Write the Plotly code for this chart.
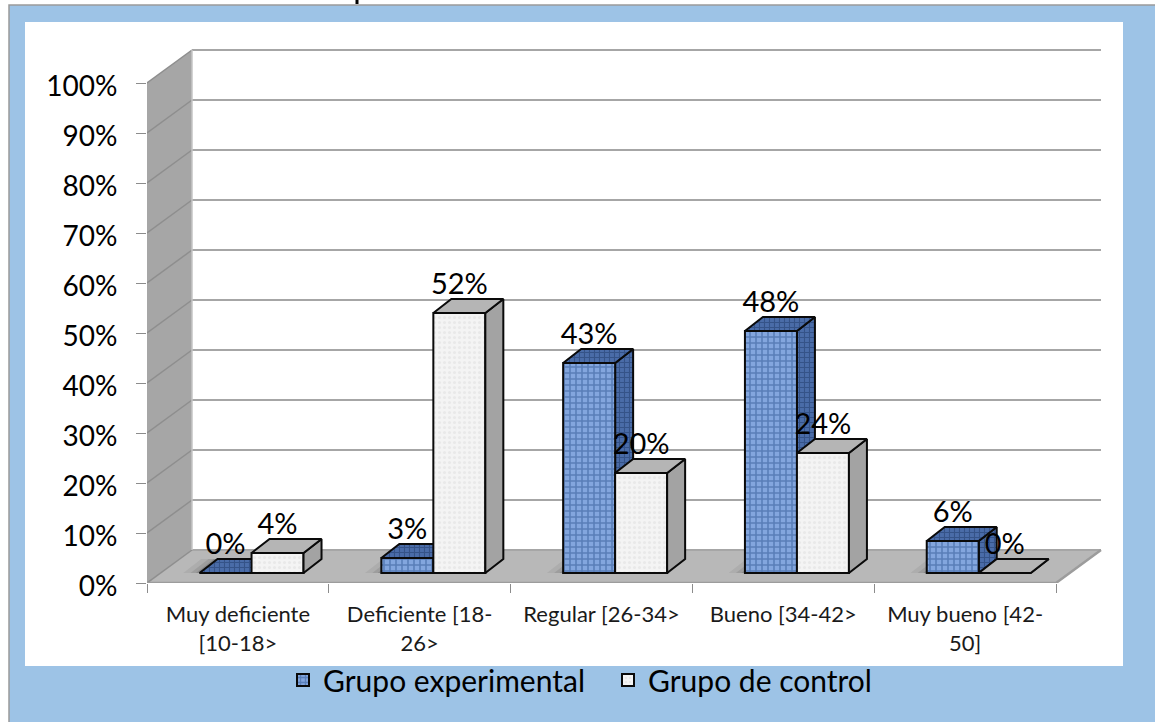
import plotly.graph_objects as go

W, H = 1155, 722

categories = ["Muy deficiente<br>[10-18>", "Deficiente [18-<br>26>", "Regular [26-34>",
              "Bueno [34-42>", "Muy bueno [42-<br>50]"]
experimental = [0, 3, 42, 48.4, 6.4]
control = [4, 52, 20, 24, 0]
experimental_labels = ["0%", "3%", "43%", "48%", "6%"]
control_labels = ["4%", "52%", "20%", "24%", "0%"]
y_ticks = [0, 10, 20, 30, 40, 50, 60, 70, 80, 90, 100]
y_tick_labels = ["0%", "10%", "20%", "30%", "40%", "50%", "60%", "70%", "80%", "90%", "100%"]

# 3D look, in axis units
WALL_DX, WALL_DY = 0.2475, 6.6
BAR_DX, BAR_DY = 0.099, 2.8
BAR_W = 0.286
BAR_SHIFT = 0.075
FLOOR = 2
LABEL_GAP = 5.3

FONT = "Lato"
BLUE_PAGE = "#9DC3E6"
WALL = "#A6A6A6"
FLOOR_COLOR = "#B8B8B8"
GRID = "#A6A6A6"


def px(x):
    return x / W


def py(y):
    return 1 - y / H


def poly(x, y, color, axes="", line=None, pattern=None):
    return go.Scatter(
        x=x, y=y, mode="lines", fill="toself", fillcolor=color,
        fillpattern=pattern,
        line=line or dict(width=0, color=color),
        xaxis="x" + axes, yaxis="y" + axes,
        hoverinfo="skip", showlegend=False,
    )


def faces(values, centers):
    side_x, side_y, top_x, top_y = [], [], [], []
    for c, v in zip(centers, values):
        x0, x1, t = c, c + BAR_W, v + FLOOR
        side_x += [x1, x1, x1 + BAR_DX, x1 + BAR_DX, x1, None]
        side_y += [FLOOR, t, t + BAR_DY, FLOOR + BAR_DY, FLOOR, None]
        top_x += [x0, x1, x1 + BAR_DX, x0 + BAR_DX, x0, None]
        top_y += [t, t, t + BAR_DY, t + BAR_DY, t, None]
    return side_x, side_y, top_x, top_y


n = len(categories)
mid = [i + 0.5 + BAR_SHIFT for i in range(n)]
exp_left = [m - BAR_W for m in mid]
ctl_left = mid

edge = dict(color="#0A0A0A", width=2)
exp_pattern = dict(shape="+", size=6, solidity=0.45, fgcolor="#2E5592", bgcolor="#83A6DE")
exp_side_pattern = dict(shape="+", size=5, solidity=0.4, fgcolor="#1F3A68", bgcolor="#4A6CA8")
ctl_pattern = dict(shape=".", size=5, solidity=0.3, fgcolor="#DEDEDE", bgcolor="#F4F4F4")

fig = go.Figure()

# walls and floor
fig.add_trace(poly([0, 0, WALL_DX, WALL_DX, 0], [0, 100, 100 + WALL_DY, WALL_DY, 0], WALL))
fig.add_trace(poly([0, n, n + WALL_DX, WALL_DX, 0], [0, 0, WALL_DY, WALL_DY, 0], FLOOR_COLOR))

# gridlines: back wall, then the darker diagonals on the side wall
grid_x, grid_y, diag_x, diag_y = [], [], [], []
for v in y_ticks:
    grid_x += [WALL_DX, n + WALL_DX, None]
    grid_y += [v + WALL_DY, v + WALL_DY, None]
    diag_x += [0, WALL_DX, None]
    diag_y += [v, v + WALL_DY, None]
fig.add_trace(go.Scatter(x=grid_x, y=grid_y, mode="lines", line=dict(color=GRID, width=2.2),
                         hoverinfo="skip", showlegend=False))
fig.add_trace(go.Scatter(x=diag_x, y=diag_y, mode="lines", line=dict(color="#8E8E8E", width=1.5),
                         hoverinfo="skip", showlegend=False))
fig.add_trace(go.Scatter(x=[WALL_DX, WALL_DX], y=[WALL_DY, 100 + WALL_DY], mode="lines",
                         line=dict(color="#C4C4C4", width=1.5), hoverinfo="skip", showlegend=False))
fig.add_trace(go.Scatter(x=[0, n, n + WALL_DX], y=[0, 0, WALL_DY], mode="lines",
                         line=dict(color="#9C9C9C", width=2.5), cliponaxis=False,
                         hoverinfo="skip", showlegend=False))

# soft shadows on the floor, left of each group
for spread, alpha in [(0.09, 0.06), (0.05, 0.09), (0.02, 0.12)]:
    shadow_x, shadow_y = [], []
    for c in exp_left:
        shadow_x += [c - spread, c, c + BAR_DX, c + BAR_DX - spread, c - spread, None]
        shadow_y += [FLOOR, FLOOR, FLOOR + BAR_DY, FLOOR + BAR_DY, FLOOR, None]
    fig.add_trace(poly(shadow_x, shadow_y, f"rgba(0,0,0,{alpha})"))

# experimental side/top stay under the front faces of the control bars
sx, sy, tx, ty = faces(experimental, exp_left)
fig.add_trace(poly(sx, sy, "#3F5F99", line=edge, pattern=exp_side_pattern))
fig.add_trace(poly(tx, ty, "#4C6DA8", line=edge, pattern=exp_side_pattern))

# front faces live on the overlay axes so they sit on top of those
fig.add_trace(go.Bar(
    x=exp_left, y=experimental, base=FLOOR, width=BAR_W, offset=0, name="Grupo experimental",
    marker=dict(color="#83A6DE", pattern=exp_pattern, line=edge),
    xaxis="x2", yaxis="y2", hoverinfo="skip",
))
fig.add_trace(go.Bar(
    x=ctl_left, y=control, base=FLOOR, width=BAR_W, offset=0, name="Grupo de control",
    marker=dict(color="#F4F4F4", pattern=ctl_pattern, line=edge),
    xaxis="x2", yaxis="y2", hoverinfo="skip",
))

sx, sy, tx, ty = faces(control, ctl_left)
fig.add_trace(poly(sx, sy, "#A3A3A3", axes="2", line=edge))
fig.add_trace(poly(tx, ty, "#B5B5B5", axes="2", line=edge))

# data labels
fig.add_trace(go.Scatter(
    x=[c + BAR_W / 2 for c in exp_left] + [c + BAR_W / 2 for c in ctl_left],
    y=[v + FLOOR + LABEL_GAP for v in experimental + control],
    text=experimental_labels + control_labels,
    mode="text", textposition="middle center",
    textfont=dict(family=FONT, size=29, color="#000000"),
    xaxis="x2", yaxis="y2", hoverinfo="skip", showlegend=False,
))

x_range = [0, (1130 - 147) / 181.8]
y_range = [0, (583 - 40) / 5.0]

fig.update_layout(
    width=W, height=H,
    margin=dict(l=0, r=0, t=0, b=0, autoexpand=False),
    paper_bgcolor="white", plot_bgcolor="rgba(0,0,0,0)",
    font=dict(family=FONT, color="#000000"),
    barmode="overlay",
    xaxis=dict(
        domain=[px(147), px(1130)], range=x_range,
        tickmode="array", tickvals=[i + 0.5 for i in range(n)], ticktext=categories,
        ticks="", showgrid=False, zeroline=False, showline=False,
        tickfont=dict(family=FONT, size=22, color="#1A1A1A"),
        ticklabelstandoff=16,
        minor=dict(tickmode="array", tickvals=list(range(n + 1)), ticks="outside",
                   ticklen=9, tickcolor="#8C8C8C", tickwidth=1, showgrid=False),
    ),
    yaxis=dict(
        domain=[py(583), py(40)], range=y_range,
        tickmode="array", tickvals=y_ticks, ticktext=y_tick_labels,
        ticks="outside", ticklen=10, tickcolor="#8C8C8C", tickwidth=1,
        showgrid=False, zeroline=False, showline=False,
        tickfont=dict(family=FONT, size=28, color="#000000"),
        ticklabelstandoff=13, ticklabelshift=3,
    ),
    xaxis2=dict(overlaying="x", domain=[px(147), px(1130)], range=x_range, visible=False, matches="x"),
    yaxis2=dict(overlaying="y", domain=[py(583), py(40)], range=y_range, visible=False, matches="y"),
    legend=dict(
        orientation="h", x=px(283), xanchor="left", y=py(680), yanchor="middle",
        font=dict(family=FONT, size=30, color="#000000"),
        bgcolor="rgba(0,0,0,0)",
        entrywidth=280, entrywidthmode="pixels",
    ),
    shapes=[
        dict(type="rect", xref="paper", yref="paper", layer="below",
             x0=px(9), x1=1.01, y0=-0.01, y1=py(5), fillcolor=BLUE_PAGE,
             line=dict(color="#9A9A9A", width=1.5)),
        dict(type="rect", xref="paper", yref="paper", layer="below",
             x0=px(25), x1=px(1123), y0=py(666), y1=py(22), fillcolor="white", line=dict(width=0)),
        # the only part of the cropped title that reaches the picture
        dict(type="line", xref="paper", yref="paper", x0=px(357), x1=px(357), y0=py(0), y1=py(4),
             line=dict(color="#000000", width=3)),
    ],
)

fig.write_html("out.html", config=dict(displayModeBar=False),
               post_script="document.body.style.margin='0';")
